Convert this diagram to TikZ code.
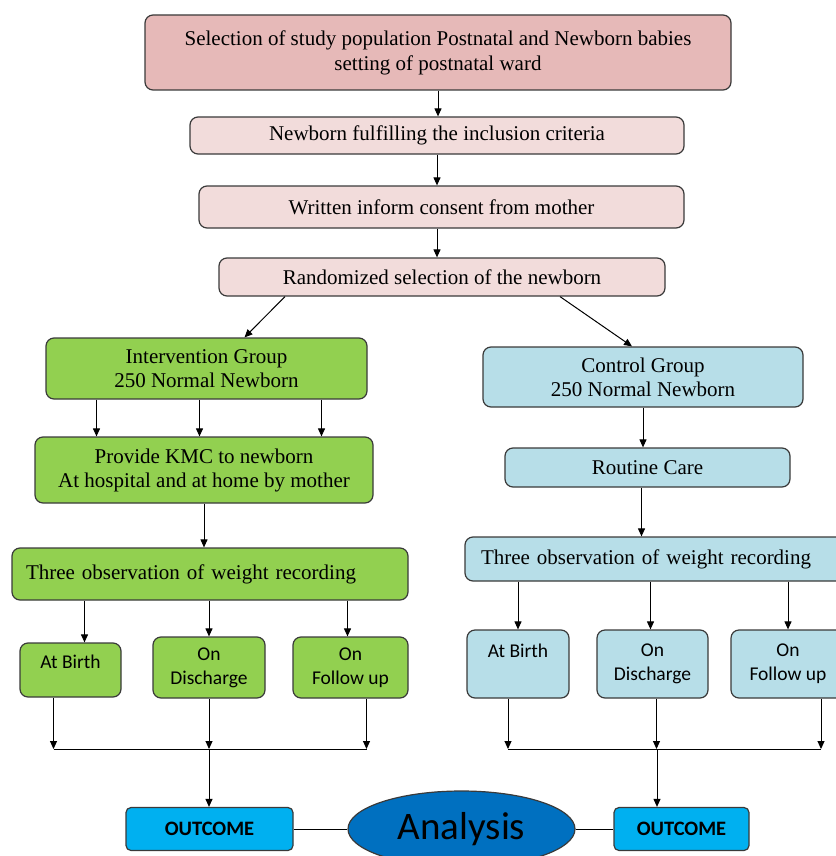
\documentclass[tikz,border=0pt]{standalone}
\usepackage{fontspec}
\setmainfont{Liberation Serif}
\newfontfamily\calfont{Carlito}
\usetikzlibrary{arrows.meta,shapes.geometric,positioning}
\definecolor{rosedark}{HTML}{E6B9B8}
\definecolor{roselight}{HTML}{F2DCDB}
\definecolor{kmcgreen}{HTML}{92D050}
\definecolor{ctrlblue}{HTML}{B7DEE8}
\definecolor{outblue}{HTML}{00B0F0}
\definecolor{anblue}{HTML}{0070C0}
\definecolor{edge}{HTML}{3A3A3A}

\begin{document}
\begin{tikzpicture}[x=1pt,y=-1pt,
    box/.style={draw=edge,line width=1.2pt,rounded corners=8pt,inner sep=0pt,
      align=center,font=\fontsize{21}{24}\selectfont},
    rosebox/.style={box,fill=roselight},
    greenbox/.style={box,fill=kmcgreen},
    bluebox/.style={box,fill=ctrlblue},
    smallbox/.style={font=\calfont\fontsize{19.5}{24}\selectfont},
    outbox/.style={box,fill=outblue,rounded corners=5pt,font=\calfont\bfseries\fontsize{20.5}{24}\selectfont},
    arr/.style={-{Triangle[length=8pt,width=7pt]},line width=1pt}]
    \useasboundingbox (0,0) rectangle (835,856);

    \node[box,fill=rosedark,minimum width=586,minimum height=75,font=\fontsize{21}{25}\selectfont] (sel) at (438,52.5)
      {Selection of study population Postnatal and Newborn babies\\ setting of postnatal ward};
    \node[rosebox,minimum width=494,minimum height=37] (incl) at (437,135.5)
      {Newborn fulfilling the inclusion criteria};
    \node[rosebox,minimum width=485,minimum height=42] (cons) at (441.5,207)
      {Written inform consent from mother};
    \node[rosebox,minimum width=446,minimum height=38] (rand) at (442,277)
      {Randomized selection of the newborn};

    \node[greenbox,minimum width=321,minimum height=61] (intv) at (206.5,368.5)
      {Intervention Group\\ 250 Normal Newborn};
    \node[bluebox,minimum width=320,minimum height=60] (ctrl) at (643,377)
      {Control Group\\ 250 Normal Newborn};
    \node[greenbox,minimum width=338,minimum height=66] (kmc) at (204,470)
      {Provide KMC to newborn\\ At hospital and at home by mother};
    \node[bluebox,minimum width=285,minimum height=39] (rout) at (647.5,467.5)
      {Routine Care};

    \node[greenbox,text width=368,inner xsep=14,align=left,minimum height=52] (gobs) at (210,574)
      {Three observation of weight recording};
    \node[bluebox,text width=348,inner xsep=16,align=left,minimum height=44] (bobs) at (655,559)
      {Three observation of weight recording};

    \node[greenbox,smallbox,minimum width=101,minimum height=54] (gbirth) at (70.5,670) {At Birth\\[-15pt] \strut};
    \node[greenbox,smallbox,minimum width=112,minimum height=61] (gdis) at (209,667.5) {On\\ Discharge};
    \node[greenbox,smallbox,minimum width=115,minimum height=61] (gfol) at (350.5,667.5) {On\\ Follow up};
    \node[bluebox,smallbox,minimum width=102,minimum height=68] (bbirth) at (518,664) {At Birth\\[-5pt] \strut};
    \node[bluebox,smallbox,minimum width=111,minimum height=68] (bdis) at (652.5,664) {On\\ Discharge};
    \node[bluebox,smallbox,minimum width=114,minimum height=68] (bfol) at (788,664) {On\\ Follow up};

    \node[outbox,minimum width=167,minimum height=43] (gout) at (209.5,829) {OUTCOME};
    \node[outbox,minimum width=135,minimum height=43] (bout) at (681.5,829) {OUTCOME};
    \node[ellipse,draw=edge,line width=1.2pt,fill=anblue,minimum width=227,minimum height=76,
      inner sep=0pt,font=\calfont\fontsize{39}{44}\selectfont] (anal) at (461.5,829) {Analysis};

    \coordinate (gjoin) at (209,749);
    \coordinate (bjoin) at (657,749);

    \draw[arr] (sel.south) -- (sel.south |- incl.north);
    \draw[arr] (incl.south) -- (incl.south |- cons.north);
    \draw[arr] (incl.south |- cons.south) -- (incl.south |- rand.north);
    \draw[arr] ([xshift=-157]rand.south) -- ([xshift=38]intv.north);
    \draw[arr] ([xshift=118]rand.south) -- ([xshift=-11]ctrl.north);
    \foreach \dx in {-110,-7,115}
      \draw[arr] ([xshift=\dx]intv.south) -- ([xshift=\dx]intv.south |- kmc.north);
    \draw[arr] (ctrl.south) -- (ctrl.south |- rout.north);
    \draw[arr] (kmc.south) -- (kmc.south |- gobs.north);
    \draw[arr] ([xshift=-6]rout.south) -- ([xshift=-6]rout.south |- bobs.north);

    \draw[arr] ([xshift=14]gbirth.north |- gobs.south) -- ([xshift=14]gbirth.north);
    \draw[arr] (gdis.north |- gobs.south) -- (gdis.north);
    \draw[arr] ([xshift=-3]gfol.north |- gobs.south) -- ([xshift=-3]gfol.north);
    \draw[arr] (bbirth.north |- bobs.south) -- (bbirth.north);
    \draw[arr] ([xshift=-2]bdis.north |- bobs.south) -- ([xshift=-2]bdis.north);
    \draw[arr] (bfol.north |- bobs.south) -- (bfol.north);

    \draw[arr] ([xshift=-17]gbirth.south) -- ([xshift=-17]gbirth.south |- gjoin);
    \draw[arr] (gdis.south) -- (gdis.south |- gjoin);
    \draw[arr] ([xshift=16]gfol.south) -- ([xshift=16]gfol.south |- gjoin);
    \draw[line width=1pt] ([xshift=-17]gbirth.south |- gjoin) -- ([xshift=16]gfol.south |- gjoin);
    \draw[arr] (gjoin) -- (gjoin |- gout.north);

    \draw[arr] ([xshift=-10]bbirth.south) -- ([xshift=-10]bbirth.south |- bjoin);
    \draw[arr] ([xshift=4]bdis.south) -- ([xshift=4]bdis.south |- bjoin);
    \draw[arr] ([xshift=33]bfol.south) -- ([xshift=33]bfol.south |- bjoin);
    \draw[line width=1pt] ([xshift=-10]bbirth.south |- bjoin) -- ([xshift=33]bfol.south |- bjoin);
    \draw[arr] (bjoin) -- (bjoin |- bout.north);

    \draw[line width=1pt] (gout.east) -- (anal.west);
    \draw[line width=1pt] (anal.east) -- (bout.west);
\end{tikzpicture}
\end{document}
